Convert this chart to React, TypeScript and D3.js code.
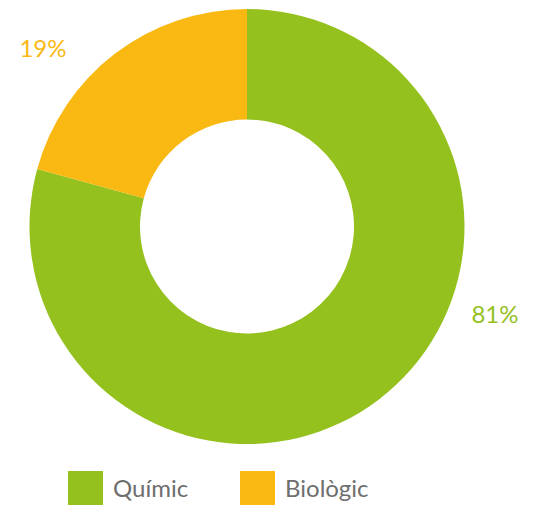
import React from "react";
import * as d3 from "d3";

const categories = ["Químic", "Biològic"];
const values = [79.25, 20.75];
const labels = ["81%", "19%"];
const colors = ["#95c11f", "#f9b912"];

const W = 533;
const H = 505;
const cx = 247;
const cy = 226.5;
const outerR = 217.5;
const innerR = 107;

export default function App() {
  const pie = d3.pie<number>().sort(null).value((d) => d);
  const arcs = pie(values);
  const arc = d3.arc<d3.PieArcDatum<number>>().innerRadius(innerR).outerRadius(outerR);
  const labelPos: [number, number][] = [
    [495, 323],
    [43, 57],
  ];
  const legendX = d3.scaleOrdinal<string, number>().domain(categories).range([68, 240]);
  return (
    <svg
      width={W}
      height={H}
      style={{ position: "absolute", left: 0, top: 0, display: "block" }}
    >
      <rect width={W} height={H} fill="#ffffff" />
      <g transform={`translate(${cx},${cy})`}>
        {arcs.map((a, i) => (
          <path key={i} d={arc(a) || ""} fill={colors[i]} />
        ))}
      </g>
      {labels.map((t, i) => (
        <text
          key={t}
          x={labelPos[i][0]}
          y={labelPos[i][1]}
          textAnchor="middle"
          fill={colors[i]}
          fontFamily="Lato, 'Open Sans', sans-serif"
          fontWeight={400}
          fontSize={24}
        >
          {t}
        </text>
      ))}
      {categories.map((c, i) => (
        <g key={c} transform={`translate(${legendX(c)},471)`}>
          <rect width={35} height={35} fill={colors[i]} />
          <text
            x={45}
            y={26}
            fill="#6e6e6e"
            fontFamily="Lato, 'Open Sans', sans-serif"
            fontSize={24}
          >
            {c}
          </text>
        </g>
      ))}
    </svg>
  );
}
